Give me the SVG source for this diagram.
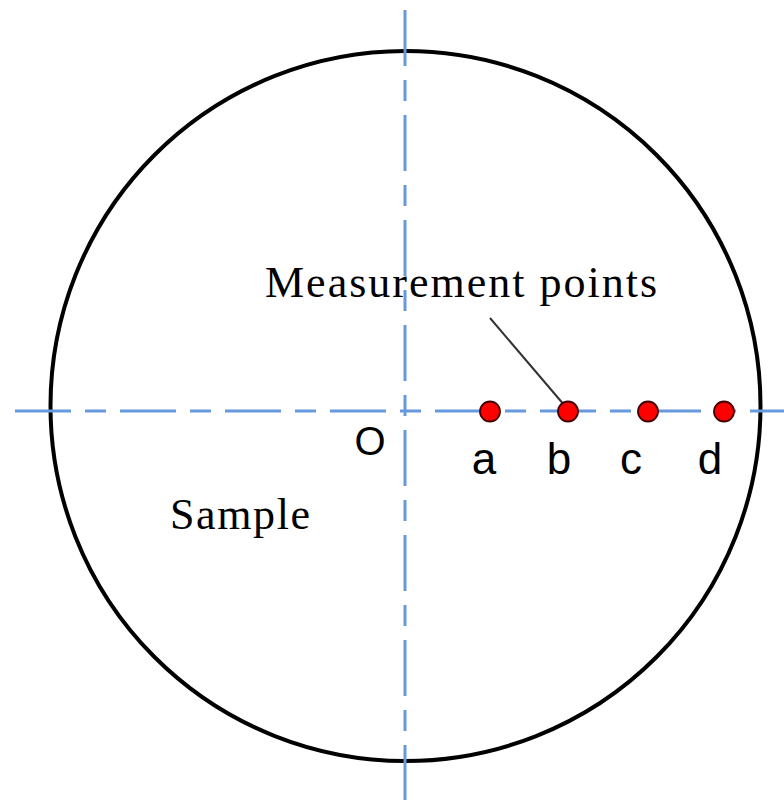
<svg xmlns="http://www.w3.org/2000/svg" width="784" height="800" viewBox="0 0 784 800">
  <style>
    .axis { stroke: #6699dd; stroke-width: 3; fill: none; stroke-dasharray: 56 14 21 14; }
    .sample { stroke: #000; stroke-width: 4; fill: none; }
    .pt { fill: #ff0000; stroke: #400; stroke-width: 1.8; }
    .serif { font-family: "Liberation Serif", "Times New Roman", serif; font-size: 44px; fill: #000; }
    .sans { font-family: "Liberation Sans", Arial, sans-serif; fill: #000; text-anchor: middle; }
    .leader { stroke: #333; stroke-width: 2; fill: none; }
  </style>
  <rect width="784" height="800" fill="#fff"/>
  <g id="sample-disc">
    <circle class="sample" cx="405.5" cy="406" r="355"/>
  </g>
  <g id="axes">
    <line class="axis" x1="15" y1="411" x2="784" y2="411"/>
    <line class="axis" x1="405" y1="10" x2="405" y2="800"/>
  </g>
  <g id="connectors">
    <line class="leader" x1="490" y1="318" x2="565" y2="406"/>
  </g>
  <g id="point-a"><circle class="pt" cx="490" cy="411.5" r="10"/><text class="sans" x="484" y="474" font-size="44">a</text></g>
  <g id="point-b"><circle class="pt" cx="568" cy="411.5" r="10"/><text class="sans" x="559" y="474" font-size="44">b</text></g>
  <g id="point-c"><circle class="pt" cx="648" cy="411.5" r="10"/><text class="sans" x="631" y="474" font-size="44">c</text></g>
  <g id="point-d"><circle class="pt" cx="724" cy="411.5" r="10"/><text class="sans" x="710" y="474" font-size="44">d</text></g>
  <g id="origin"><text class="sans" x="370" y="455" font-size="40">O</text></g>
  <g id="label-measurement"><text class="serif" x="265" y="297" textLength="392" lengthAdjust="spacing">Measurement points</text></g>
  <g id="label-sample"><text class="serif" x="170" y="529" textLength="140" lengthAdjust="spacing">Sample</text></g>
</svg>
